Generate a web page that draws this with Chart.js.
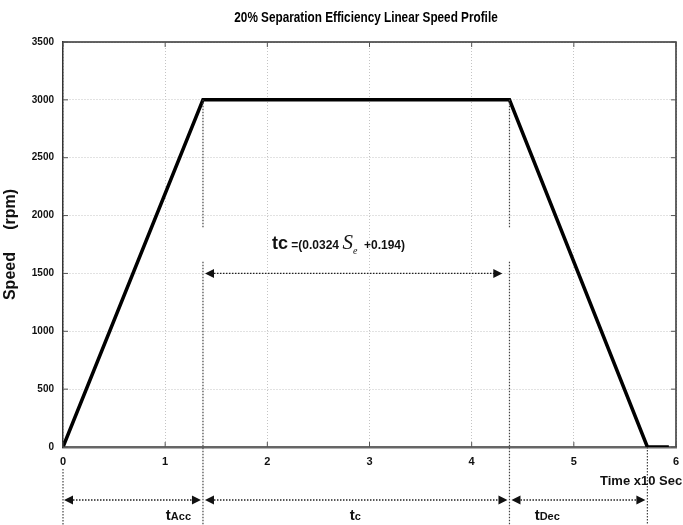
<!DOCTYPE html>
<html>
<head>
<meta charset="utf-8">
<script src="https://cdn.jsdelivr.net/npm/chart.js@4.4.1/dist/chart.umd.min.js"></script>
<style>
  html, body { margin: 0; padding: 0; background: #fff; }
  #wrap { width: 683px; height: 525px; }
</style>
</head>
<body>
<div id="wrap"><canvas id="grafica" width="683" height="525"></canvas></div>
<script>
// speed profile (time in x10 s, speed in rpm)
const timeX = [0, 1.37, 4.37, 5.72, 5.93];
const speedRpm = [0, 3000, 3000, 0, 0];
const xTicks = [0, 1, 2, 3, 4, 5, 6];
const yTicks = [0, 500, 1000, 1500, 2000, 2500, 3000, 3500];

// phase boundaries and labels along the bottom
const phaseBounds = [0, 1.37, 4.37, 5.72];
const phaseNames = [['t', 'Acc'], ['t', 'c'], ['t', 'Dec']];
const phaseLabelX = [1.13, 2.86, 4.74];

// tc arrow inside the plot
const tcArrowX = [1.39, 4.30];
const tcArrowY = 1500;

const sans = "'Liberation Sans', Arial, sans-serif";

function arrow(ctx, x1, x2, y) {
  ctx.save();
  ctx.strokeStyle = '#222';
  ctx.fillStyle = '#111';
  ctx.lineWidth = 1.3;
  ctx.setLineDash([1.5, 1.5]);
  ctx.beginPath();
  ctx.moveTo(x1 + 6, y);
  ctx.lineTo(x2 - 6, y);
  ctx.stroke();
  ctx.setLineDash([]);
  ctx.beginPath();
  ctx.moveTo(x1, y); ctx.lineTo(x1 + 9, y - 4.5); ctx.lineTo(x1 + 9, y + 4.5); ctx.closePath();
  ctx.moveTo(x2, y); ctx.lineTo(x2 - 9, y - 4.5); ctx.lineTo(x2 - 9, y + 4.5); ctx.closePath();
  ctx.fill();
  ctx.restore();
}

function vdots(ctx, x, y1, y2) {
  ctx.save();
  ctx.strokeStyle = '#444';
  ctx.lineWidth = 1.2;
  ctx.setLineDash([1.5, 1.5]);
  ctx.beginPath();
  ctx.moveTo(x, y1);
  ctx.lineTo(x, y2);
  ctx.stroke();
  ctx.restore();
}

const extras = {
  id: 'extras',
  afterDraw(chart) {
    const ctx = chart.ctx;
    const a = chart.chartArea;
    const xs = chart.scales.x, ys = chart.scales.y;

    // frame on top and right
    ctx.save();
    ctx.strokeStyle = '#333';
    ctx.lineWidth = 1.5;
    ctx.beginPath();
    ctx.moveTo(a.left, a.top); ctx.lineTo(a.right, a.top); ctx.lineTo(a.right, a.bottom);
    ctx.stroke();
    // small inner ticks
    ctx.lineWidth = 1;
    ctx.strokeStyle = '#555';
    ctx.beginPath();
    yTicks.forEach(v => {
      const y = ys.getPixelForValue(v);
      ctx.moveTo(a.left, y); ctx.lineTo(a.left + 5, y);
      ctx.moveTo(a.right, y); ctx.lineTo(a.right - 5, y);
    });
    xTicks.forEach(v => {
      const x = xs.getPixelForValue(v);
      ctx.moveTo(x, a.bottom); ctx.lineTo(x, a.bottom - 5);
      ctx.moveTo(x, a.top); ctx.lineTo(x, a.top + 5);
    });
    ctx.stroke();
    ctx.restore();

    // title (condensed look)
    ctx.save();
    ctx.fillStyle = '#000';
    ctx.font = 'bold 14px ' + sans;
    ctx.textAlign = 'center';
    ctx.textBaseline = 'middle';
    ctx.translate(366, 18);
    ctx.scale(0.84, 1);
    ctx.fillText('20% Separation Efficiency Linear Speed Profile', 0, 0);
    ctx.restore();

    // dotted verticals
    const bottomRow = a.bottom + 53;
    const yTop = ys.getPixelForValue(3000);
    [phaseBounds[1], phaseBounds[2]].forEach(v => {
      const x = xs.getPixelForValue(v);
      vdots(ctx, x, yTop, ys.getPixelForValue(1900));
      vdots(ctx, x, ys.getPixelForValue(1600), 525);
    });
    vdots(ctx, xs.getPixelForValue(phaseBounds[0]), a.bottom + 22, 525);
    vdots(ctx, xs.getPixelForValue(phaseBounds[3]), a.bottom, 525);

    // tc arrow and formula
    arrow(ctx, xs.getPixelForValue(tcArrowX[0]), xs.getPixelForValue(tcArrowX[1]), ys.getPixelForValue(tcArrowY));
    ctx.save();
    ctx.fillStyle = '#111';
    ctx.textBaseline = 'alphabetic';
    let tx = 272;
    const by = 249;
    const parts = [
      ['tc', 'bold 18px ' + sans, 0],
      [' =(0.0324 ', 'bold 12px ' + sans, 0],
      ['S', 'italic 21px \'Liberation Serif\', serif', 0],
      ['e', 'italic 10px \'Liberation Serif\', serif', 5],
      ['  +0.194)', 'bold 12px ' + sans, 0]
    ];
    parts.forEach(p => {
      ctx.font = p[1];
      ctx.fillText(p[0], tx, by + p[2]);
      tx += ctx.measureText(p[0]).width;
    });
    ctx.restore();

    // phase arrows along the bottom
    for (let i = 0; i < 3; i++) {
      const x1 = xs.getPixelForValue(phaseBounds[i]) + (i === 0 ? 1 : 2);
      const x2 = xs.getPixelForValue(phaseBounds[i + 1]) - 2;
      arrow(ctx, x1, x2, bottomRow);
      ctx.save();
      ctx.fillStyle = '#111';
      ctx.textBaseline = 'alphabetic';
      ctx.font = 'bold 15px ' + sans;
      const w1 = ctx.measureText(phaseNames[i][0]).width;
      ctx.font = 'bold 11px ' + sans;
      const w2 = ctx.measureText(phaseNames[i][1]).width;
      let lx = xs.getPixelForValue(phaseLabelX[i]) - (w1 + w2) / 2;
      ctx.font = 'bold 15px ' + sans;
      ctx.fillText(phaseNames[i][0], lx, 520);
      ctx.font = 'bold 11px ' + sans;
      ctx.fillText(phaseNames[i][1], lx + w1, 520);
      ctx.restore();
    }

    // x axis caption
    ctx.save();
    ctx.fillStyle = '#111';
    ctx.font = 'bold 13px ' + sans;
    ctx.textBaseline = 'middle';
    ctx.fillText('Time x10 Sec', 600, 481);
    ctx.restore();
  }
};

const points = timeX.map((t, i) => ({ x: t, y: speedRpm[i] }));

new Chart(document.getElementById('grafica'), {
  type: 'line',
  data: {
    datasets: [{
      data: points,
      borderColor: '#000',
      borderWidth: 3.5,
      pointRadius: 0,
      tension: 0,
      fill: false
    }]
  },
  options: {
    responsive: false,
    devicePixelRatio: 1,
    animation: false,
    layout: { padding: { top: 42, right: 7, left: 0, bottom: 0 } },
    plugins: { legend: { display: false }, tooltip: { enabled: false }, title: { display: false } },
    scales: {
      x: {
        type: 'linear',
        min: 0, max: 6,
        afterFit: s => { s.height = 78; s.paddingLeft = 0; s.paddingRight = 0; },
        afterBuildTicks: s => { s.ticks = xTicks.map(v => ({ value: v })); },
        ticks: { padding: 8, color: '#111', font: { family: sans, weight: 'bold', size: 11 }, callback: v => String(v) },
        grid: { color: '#c4c4c4', lineWidth: 1, drawTicks: false },
        border: { color: '#666', width: 2.5, dash: [1, 2] }
      },
      y: {
        min: 0, max: 3500,
        afterFit: s => { s.width = 63; },
        afterBuildTicks: s => { s.ticks = yTicks.map(v => ({ value: v })); },
        ticks: { padding: 9, color: '#111', font: { family: sans, weight: 'bold', size: 10 }, callback: v => String(v) },
        grid: { color: '#c4c4c4', lineWidth: 1, drawTicks: false },
        border: { color: '#333', width: 1.5, dash: [1, 2] },
        title: {
          display: true,
          text: 'Speed     (rpm)',
          color: '#111',
          padding: { top: 1, bottom: 0 },
          font: { family: sans, weight: 'bold', size: 16 }
        }
      }
    }
  },
  plugins: [extras]
});
</script>
</body>
</html>
